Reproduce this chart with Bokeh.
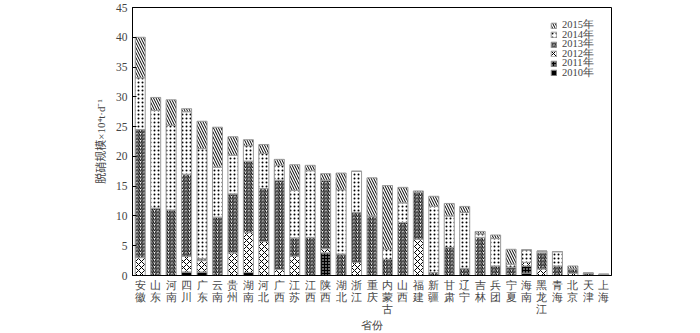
from bokeh.plotting import figure
from bokeh.models import Legend, LegendItem, FixedTicker, CategoricalAxis, CustomJSTickFormatter
from bokeh.embed import file_html
from bokeh.resources import INLINE

provinces = ["安徽", "山东", "河南", "四川", "广东", "云南", "贵州", "湖南", "河北", "广西",
             "江苏", "江西", "陕西", "湖北", "浙江", "重庆", "内蒙古", "山西", "福建", "新疆",
             "甘肃", "辽宁", "吉林", "兵团", "宁夏", "海南", "黑龙江", "青海", "北京", "天津", "上海"]
years = ["2010年", "2011年", "2012年", "2013年", "2014年", "2015年"]

y2010 = [0, 0, 0, 0.6, 0.6, 0, 0, 0.5, 0, 0, 0, 0, 0, 0, 0, 0, 0, 0, 0, 0, 0, 0, 0, 0, 0, 0.4, 0, 0, 0, 0, 0]
y2011 = [0, 0, 0, 0, 0, 0, 0, 0, 0, 0, 0, 0, 3.8, 0, 0, 0, 0, 0, 0, 0, 0, 0, 0, 0, 0, 1.2, 0, 0, 0, 0, 0]
y2012 = [3.0, 0, 0, 2.6, 1.9, 0, 3.8, 6.7, 5.7, 1.0, 3.2, 0, 0.7, 0, 2.2, 0, 0, 0, 6.1, 0, 0, 0, 0, 0, 0, 0.6, 1.1, 0, 0.4, 0, 0]
y2013 = [21.5, 11.3, 11.0, 13.8, 0.3, 9.8, 9.9, 12.0, 8.9, 15.0, 3.1, 6.4, 11.5, 3.6, 8.4, 10.0, 2.7, 8.9, 7.9, 0.5, 4.7, 1.2, 6.4, 1.6, 1.4, 0, 2.7, 1.6, 0.7, 0.4, 0.2]
y2014 = [8.7, 16.4, 14.2, 10.5, 18.5, 8.4, 6.5, 2.6, 5.9, 2.5, 8.0, 11.2, 0, 10.8, 6.9, 0, 1.7, 3.3, 0, 11.1, 5.3, 9.4, 0.6, 4.6, 0.5, 2.1, 0.3, 2.4, 0, 0, 0]
y2015 = [6.8, 2.2, 4.3, 0.5, 4.6, 6.7, 3.1, 1.0, 1.5, 1.0, 4.3, 0.9, 1.1, 2.8, 0, 6.4, 10.7, 2.6, 0.2, 1.7, 2.1, 1.0, 0.4, 0.6, 2.5, 0, 0, 0, 0.5, 0, 0]
y_ticks = [0, 5, 10, 15, 20, 25, 30, 35, 40, 45]

data = {"2010年": y2010, "2011年": y2011, "2012年": y2012,
        "2013年": y2013, "2014年": y2014, "2015年": y2015}

SERIF = "'Liberation Serif', 'Noto Sans CJK SC'"
MEAS = "Liberation Serif"

p = figure(width=700, height=333, x_range=provinces, y_range=(0, 45),
           output_backend="svg", toolbar_location=None,
           min_border_left=132, min_border_right=89, min_border_top=7, min_border_bottom=56)
p.xgrid.visible = False
p.ygrid.visible = False
p.outline_line_color = "black"
p.outline_line_width = 1

fills = ["black", "black", "white", "white", "white", "white"]
hcols = [None, "white", "black", "black", "black", "black"]
pats = [None, "dot", "diagonal_cross", "right_diagonal_line", "dot", "left_diagonal_line"]
scales = [12, 3, 6, 3.5, 4, 5]
weights = [1, 1.2, 1, 1.1, 1, 1.0]

renderers = []
bottoms = [0.0] * len(provinces)
for i, yr in enumerate(years):
    tops = [b + v for b, v in zip(bottoms, data[yr])]
    kw = dict(x=provinces, bottom=bottoms, top=tops, width=0.65,
              fill_color=fills[i], line_color="#9a9a9a", line_width=1)
    if pats[i] is not None:
        kw.update(hatch_pattern=pats[i], hatch_color=hcols[i],
                  hatch_scale=scales[i], hatch_weight=weights[i])
    r = p.vbar(**kw)
    renderers.append(r)
    bottoms = tops

# one small legend per entry so the rows can sit close together
legend_bottoms = {"2015年": 243, "2014年": 233.5, "2013年": 224, "2012年": 214.5, "2011年": 205, "2010年": 195.5}
for i in reversed(range(6)):
    lg = Legend(items=[LegendItem(label=years[i], renderers=[renderers[i]])],
                location=(418, legend_bottoms[years[i]]), border_line_alpha=0,
                background_fill_alpha=0, glyph_width=7, glyph_height=7,
                label_height=7, spacing=0, padding=0, margin=0, label_standoff=5,
                label_text_font=MEAS, label_text_font_size="10.5px")
    p.add_layout(lg)

p.yaxis.ticker = FixedTicker(ticks=y_ticks)
p.yaxis.major_tick_in = 4
p.yaxis.major_tick_out = 0
p.yaxis.minor_tick_line_color = None
p.yaxis.major_label_text_font = SERIF
p.yaxis.major_label_text_font_size = "11.5px"
p.yaxis.axis_label = "脱硝规模×10⁴t·d⁻¹"
p.yaxis.axis_label_text_font = SERIF
p.yaxis.axis_label_text_font_size = "11px"
p.yaxis.axis_label_text_font_style = "normal"
p.yaxis.axis_label_standoff = 6

# category names written top-to-bottom: one axis row per character
def char_formatter(k):
    return CustomJSTickFormatter(code=f"return tick.length > {k} ? tick[{k}] : ' ';")

ax1 = p.xaxis[0]
ax1.formatter = char_formatter(0)
ax1.major_tick_line_color = None
ax1.major_tick_out = 0
ax1.major_label_standoff = 4
ax1.major_label_text_font = MEAS
ax1.major_label_text_font_size = "10.5px"
ax1.major_label_text_line_height = 0.8

for k in (1, 2):
    ax = CategoricalAxis(formatter=char_formatter(k), axis_line_color=None,
                         major_tick_line_color=None, minor_tick_line_color=None,
                         major_tick_out=0, major_label_standoff=-2,
                         major_label_text_font=MEAS, major_label_text_font_size="10.5px",
                         major_label_text_line_height=0.8)
    if k == 2:
        ax.axis_label = "省份"
        ax.axis_label_text_font = MEAS
        ax.axis_label_text_font_size = "11px"
        ax.axis_label_text_font_style = "normal"
        ax.axis_label_standoff = 1
    p.add_layout(ax, "below")

open("out.html", "w").write(file_html(p, INLINE))
